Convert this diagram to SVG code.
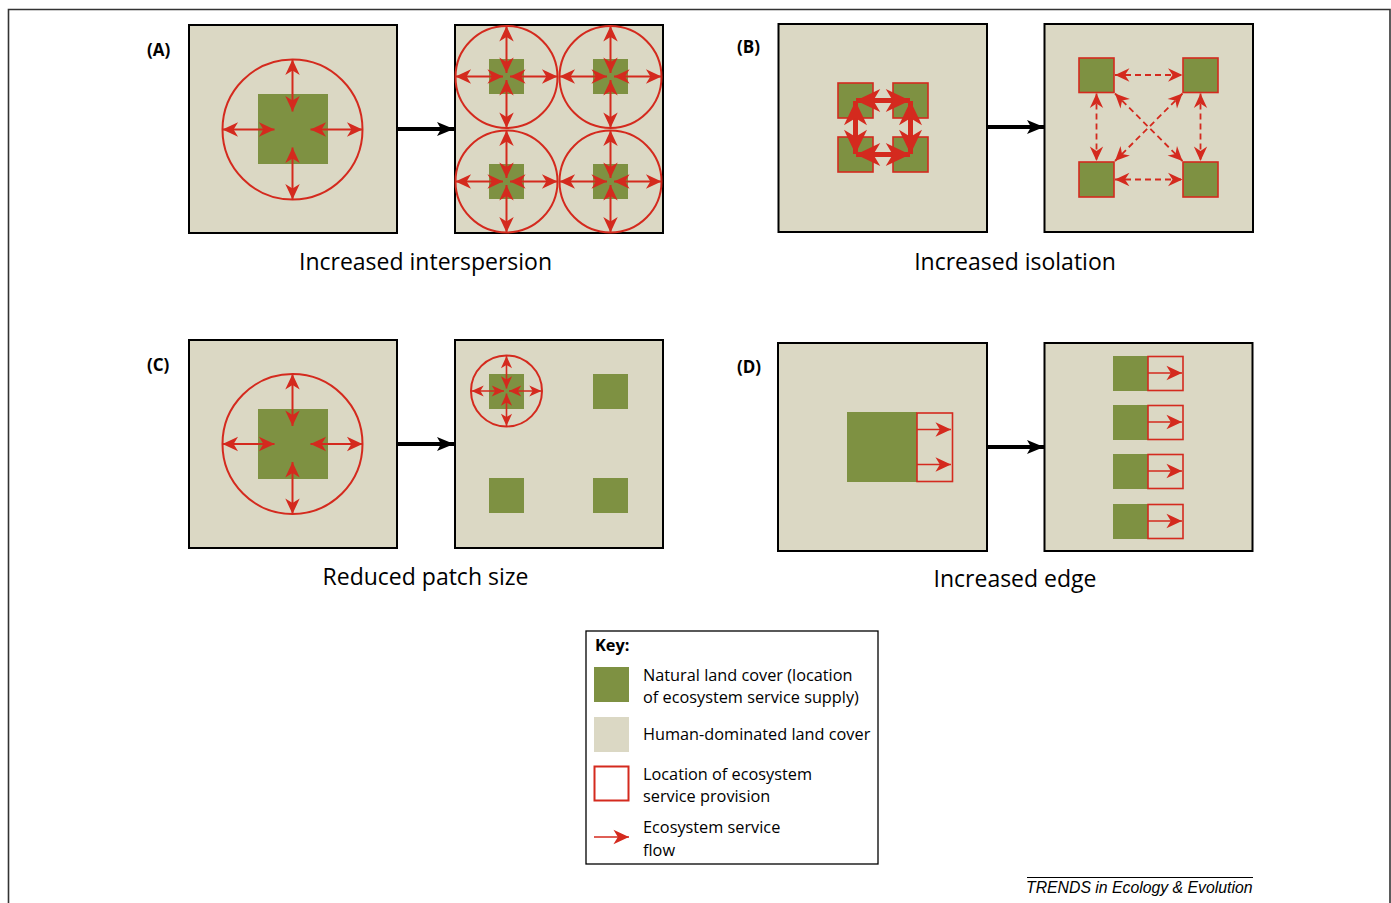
<svg xmlns="http://www.w3.org/2000/svg" width="1391" height="903" viewBox="0 0 1391 903">
<style>
.bg{fill:#DBD8C4;stroke:#000;stroke-width:2}
.gr{fill:#7E9142}
.grr{fill:#7E9142;stroke:#D42A1E;stroke-width:1.6}
.prov{fill:none;stroke:#D42A1E;stroke-width:1.6}
.circ{fill:none;stroke:#D42A1E;stroke-width:2}
.fl{stroke:#D42A1E;stroke-width:2;fill:none;marker-start:url(#mh);marker-end:url(#mh)}
.fls{stroke:#D42A1E;stroke-width:1.6;fill:none;marker-start:url(#ms);marker-end:url(#ms)}
.flt{stroke:#D42A1E;stroke-width:5;fill:none;marker-start:url(#mt);marker-end:url(#mt)}
.fld{stroke:#D42A1E;stroke-width:1.8;fill:none;stroke-dasharray:6 4;marker-start:url(#md);marker-end:url(#md)}
.fl1{stroke:#D42A1E;stroke-width:1.6;fill:none;marker-end:url(#mh)}
.blk{stroke:#000;stroke-width:4;fill:none;marker-end:url(#mb)}
.lbl{font-family:"Open Sans",sans-serif;font-size:23px;fill:#000;text-anchor:middle}
.pl{font-family:"Open Sans",sans-serif;font-size:17px;font-weight:bold;fill:#000}
.key{font-family:"Open Sans",sans-serif;font-size:16.3px;fill:#000}
</style>
<defs>
<marker id="mh" markerUnits="userSpaceOnUse" orient="auto-start-reverse" refX="0" refY="0" markerWidth="20" markerHeight="20" viewBox="-16 -8 18 16" overflow="visible"><path d="M0,0 L-14,-6.5 L-10,0 L-14,6.5 Z" fill="#D42A1E"/></marker>
<marker id="ms" markerUnits="userSpaceOnUse" orient="auto-start-reverse" refX="0" refY="0" markerWidth="20" markerHeight="20" viewBox="-16 -8 18 16" overflow="visible"><path d="M0,0 L-11,-5 L-8,0 L-11,5 Z" fill="#D42A1E"/></marker>
<marker id="mt" markerUnits="userSpaceOnUse" orient="auto-start-reverse" refX="0" refY="0" markerWidth="30" markerHeight="30" viewBox="-24 -12 26 24" overflow="visible"><path d="M0,0 L-21,-10 L-15,0 L-21,10 Z" fill="#D42A1E"/></marker>
<marker id="md" markerUnits="userSpaceOnUse" orient="auto-start-reverse" refX="0" refY="0" markerWidth="20" markerHeight="20" viewBox="-16 -8 18 16" overflow="visible"><path d="M0,0 L-13,-6 L-9,0 L-13,6 Z" fill="#D42A1E"/></marker>
<marker id="mb" markerUnits="userSpaceOnUse" orient="auto" refX="0" refY="0" markerWidth="20" markerHeight="20" viewBox="-18 -9 20 18" overflow="visible"><path d="M0,0 L-17,-7 L-13,0 L-17,7 Z" fill="#000"/></marker>
</defs>
<rect x="0" y="0" width="1391" height="903" fill="#fff"/>
<path d="M8.5,903 V9.5 H1390 V903" fill="none" stroke="#333" stroke-width="1.6"/>

<g id="panelA-left">
<rect class="bg" x="189" y="25" width="208" height="208"/>
<rect class="gr" x="258" y="94" width="70" height="70"/>
<circle class="circ" cx="292.5" cy="129.5" r="70"/>
<line class="fl" x1="292.5" y1="111.5" x2="292.5" y2="59.5"/>
<line class="fl" x1="292.5" y1="147.5" x2="292.5" y2="199.5"/>
<line class="fl" x1="274.5" y1="129.5" x2="222.5" y2="129.5"/>
<line class="fl" x1="310.5" y1="129.5" x2="362.5" y2="129.5"/>
</g>
<g id="panelA-right">
<rect class="bg" x="455" y="25" width="208" height="208"/>
<rect class="gr" x="489" y="59" width="35" height="35"/>
<rect class="gr" x="593" y="59" width="35" height="35"/>
<rect class="gr" x="489" y="164" width="35" height="35"/>
<rect class="gr" x="593" y="164" width="35" height="35"/>
<circle class="circ" cx="506.5" cy="77" r="51"/>
<circle class="circ" cx="610.5" cy="77" r="51"/>
<circle class="circ" cx="506.5" cy="181.5" r="51"/>
<circle class="circ" cx="610.5" cy="181.5" r="51"/>
<line class="fl" x1="506.5" y1="73" x2="506.5" y2="26"/>
<line class="fl" x1="506.5" y1="80" x2="506.5" y2="128"/>
<line class="fl" x1="503" y1="76.5" x2="455.5" y2="76.5"/>
<line class="fl" x1="510" y1="76.5" x2="557.5" y2="76.5"/>
<line class="fl" x1="610.5" y1="73" x2="610.5" y2="26"/>
<line class="fl" x1="610.5" y1="80" x2="610.5" y2="128"/>
<line class="fl" x1="607" y1="76.5" x2="559.5" y2="76.5"/>
<line class="fl" x1="614" y1="76.5" x2="661.5" y2="76.5"/>
<line class="fl" x1="506.5" y1="178" x2="506.5" y2="130.5"/>
<line class="fl" x1="506.5" y1="185" x2="506.5" y2="232.5"/>
<line class="fl" x1="503" y1="181.5" x2="455.5" y2="181.5"/>
<line class="fl" x1="510" y1="181.5" x2="557.5" y2="181.5"/>
<line class="fl" x1="610.5" y1="178" x2="610.5" y2="130.5"/>
<line class="fl" x1="610.5" y1="185" x2="610.5" y2="232.5"/>
<line class="fl" x1="607" y1="181.5" x2="559.5" y2="181.5"/>
<line class="fl" x1="614" y1="181.5" x2="661.5" y2="181.5"/>
</g>

<g id="panelB-left">
<rect class="bg" x="778.5" y="24" width="208.5" height="208"/>
<rect class="grr" x="838" y="83" width="35" height="35"/>
<rect class="grr" x="893" y="83" width="35" height="35"/>
<rect class="grr" x="838" y="137" width="35" height="35"/>
<rect class="grr" x="893" y="137" width="35" height="35"/>
<line class="flt" x1="856" y1="100.5" x2="910" y2="100.5"/>
<line class="flt" x1="856" y1="154.5" x2="910" y2="154.5"/>
<line class="flt" x1="855.5" y1="101" x2="855.5" y2="154"/>
<line class="flt" x1="910.5" y1="101" x2="910.5" y2="154"/>
</g>
<g id="panelB-right">
<rect class="bg" x="1044.5" y="24" width="208.5" height="208"/>
<rect class="grr" x="1079" y="58" width="35" height="34.5"/>
<rect class="grr" x="1183" y="58" width="35" height="34.5"/>
<rect class="grr" x="1079" y="162" width="35" height="35"/>
<rect class="grr" x="1183" y="162" width="35" height="35"/>
<line class="fld" x1="1115" y1="75" x2="1182.5" y2="75"/>
<line class="fld" x1="1115" y1="179.5" x2="1182.5" y2="179.5"/>
<line class="fld" x1="1096.5" y1="93.5" x2="1096.5" y2="161"/>
<line class="fld" x1="1200.5" y1="93.5" x2="1200.5" y2="161"/>
<line class="fld" x1="1115" y1="93.5" x2="1182.5" y2="161"/>
<line class="fld" x1="1182.5" y1="93.5" x2="1115" y2="161"/>
</g>

<g id="panelC-left">
<rect class="bg" x="189" y="340" width="208" height="208"/>
<rect class="gr" x="258" y="409" width="70" height="70"/>
<circle class="circ" cx="292.5" cy="444" r="70"/>
<line class="fl" x1="292.5" y1="426" x2="292.5" y2="374"/>
<line class="fl" x1="292.5" y1="462" x2="292.5" y2="514"/>
<line class="fl" x1="274.5" y1="444" x2="222.5" y2="444"/>
<line class="fl" x1="310.5" y1="444" x2="362.5" y2="444"/>
</g>
<g id="panelC-right">
<rect class="bg" x="455" y="340" width="208" height="208"/>
<rect class="gr" x="489" y="374" width="35" height="35"/>
<rect class="gr" x="593" y="374" width="35" height="35"/>
<rect class="gr" x="489" y="478" width="35" height="35"/>
<rect class="gr" x="593" y="478" width="35" height="35"/>
<circle class="circ" cx="506.5" cy="391" r="35.5"/>
<line class="fls" x1="506.5" y1="388.5" x2="506.5" y2="356"/>
<line class="fls" x1="506.5" y1="393.5" x2="506.5" y2="426"/>
<line class="fls" x1="504" y1="391" x2="471.5" y2="391"/>
<line class="fls" x1="509" y1="391" x2="541.5" y2="391"/>
</g>

<g id="panelD-left">
<rect class="bg" x="778" y="343" width="209" height="208"/>
<rect class="gr" x="847" y="412" width="70" height="70"/>
<rect class="prov" x="917" y="413" width="35.5" height="68.5"/>
<line class="fl1" x1="917" y1="429.5" x2="951" y2="429.5"/>
<line class="fl1" x1="917" y1="464.5" x2="951" y2="464.5"/>
</g>
<g id="panelD-right">
<rect class="bg" x="1044.5" y="343" width="208" height="208"/>
<rect class="gr" x="1113" y="356" width="35" height="35"/>
<rect class="prov" x="1148" y="356.5" width="35" height="34"/>
<line class="fl1" x1="1148" y1="373" x2="1182" y2="373"/>
<rect class="gr" x="1113" y="405" width="35" height="35"/>
<rect class="prov" x="1148" y="405.5" width="35" height="34"/>
<line class="fl1" x1="1148" y1="422" x2="1182" y2="422"/>
<rect class="gr" x="1113" y="454" width="35" height="35"/>
<rect class="prov" x="1148" y="454.5" width="35" height="34"/>
<line class="fl1" x1="1148" y1="471" x2="1182" y2="471"/>
<rect class="gr" x="1113" y="504" width="35" height="35"/>
<rect class="prov" x="1148" y="504.5" width="35" height="34"/>
<line class="fl1" x1="1148" y1="521" x2="1182" y2="521"/>
</g>

<g id="connectors">
<line class="blk" x1="397" y1="129" x2="454" y2="129"/>
<line class="blk" x1="987" y1="127" x2="1044" y2="127"/>
<line class="blk" x1="397" y1="444" x2="454" y2="444"/>
<line class="blk" x1="987" y1="447" x2="1044" y2="447"/>
</g>

<g id="labels">
<text class="pl" x="147" y="56">(A)</text>
<text class="pl" x="737" y="53">(B)</text>
<text class="pl" x="147" y="371">(C)</text>
<text class="pl" x="737" y="373">(D)</text>
<text class="lbl" x="425.5" y="270">Increased interspersion</text>
<text class="lbl" x="1015" y="270">Increased isolation</text>
<text class="lbl" x="425.5" y="585">Reduced patch size</text>
<text class="lbl" x="1015" y="587">Increased edge</text>
</g>

<g id="key">
<rect x="586" y="631" width="292" height="233" fill="#fff" stroke="#000" stroke-width="1.3"/>
<text class="key" x="595" y="651" font-weight="bold">Key:</text>
<rect class="gr" x="594" y="667" width="35" height="35"/>
<rect x="594" y="717" width="35" height="35" fill="#DBD8C4"/>
<rect class="prov" x="594.5" y="766.5" width="34" height="34" style="stroke-width:2"/>
<line class="fl1" x1="594" y1="837" x2="629" y2="837"/>
<text class="key" x="643" y="681">Natural land cover (location</text>
<text class="key" x="643" y="703">of ecosystem service supply)</text>
<text class="key" x="643" y="740">Human-dominated land cover</text>
<text class="key" x="643" y="780">Location of ecosystem</text>
<text class="key" x="643" y="802">service provision</text>
<text class="key" x="643" y="833">Ecosystem service</text>
<text class="key" x="643" y="856">flow</text>
</g>

<g id="footer">
<line x1="1027" y1="877.5" x2="1253" y2="877.5" stroke="#000" stroke-width="1"/>
<text x="1026" y="893" font-family="Liberation Sans, Arial, sans-serif" font-size="15.8" font-style="italic" fill="#000">TRENDS in Ecology &amp; Evolution</text>
</g>
</svg>
